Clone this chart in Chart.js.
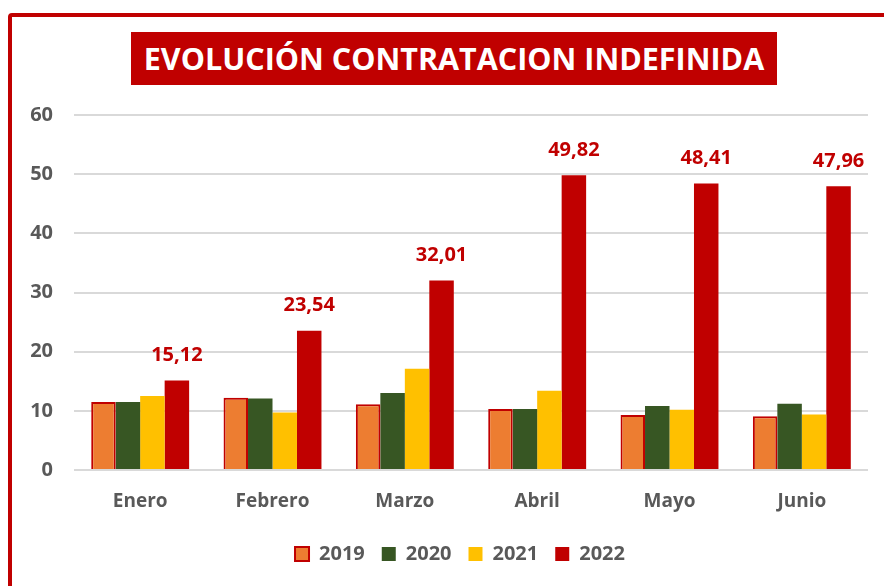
<!DOCTYPE html>
<html>
<head>
<meta charset="utf-8">
<script src="https://cdn.jsdelivr.net/npm/chart.js@4.4.0/dist/chart.umd.min.js"></script>
<style>
  html, body { margin: 0; padding: 0; background: #fff; }
  body { width: 884px; height: 586px; position: relative; overflow: hidden; font-family: "Open Sans", sans-serif; }
  #frame { position: absolute; left: 8px; top: 13px; width: 920px; height: 640px; border: 4px solid #c00000; border-radius: 4px; }
  #title { position: absolute; left: 131px; top: 32px; width: 646px; height: 53px; background: #c00000; color: #fff;
           font-weight: 700; font-size: 30.5px; line-height: 53px; text-align: center; white-space: nowrap; }
  #chart { position: absolute; left: 0; top: 0; }
</style>
</head>
<body>
<div id="frame"></div>
<div id="title">EVOLUCIÓN CONTRATACION INDEFINIDA</div>
<canvas id="chart" width="884" height="586"></canvas>
<script>
// data
const months = ['Enero', 'Febrero', 'Marzo', 'Abril', 'Mayo', 'Junio'];
const years = ['2019', '2020', '2021', '2022'];
const v2019 = [11.5, 12.2, 11.1, 10.3, 9.3, 9.1];
const v2020 = [11.5, 12.1, 13.0, 10.3, 10.8, 11.2];
const v2021 = [12.5, 9.7, 17.1, 13.4, 10.2, 9.4];
const v2022 = [15.12, 23.54, 32.01, 49.82, 48.41, 47.96];
const yTicks = [0, 10, 20, 30, 40, 50, 60];

const grey = '#595959';

// labels over the 2022 bars only
const topLabels = {
  id: 'topLabels',
  afterDatasetsDraw(chart) {
    const ctx = chart.ctx;
    const meta = chart.getDatasetMeta(3);
    ctx.save();
    ctx.font = 'bold 20px "Open Sans"';
    ctx.fillStyle = '#c00000';
    ctx.textAlign = 'center';
    ctx.textBaseline = 'middle';
    meta.data.forEach(function (bar, i) {
      ctx.fillText(v2022[i].toFixed(2).replace('.', ','), bar.x, bar.y - 25);
    });
    ctx.restore();
  }
};

// legend sits a bit right of the canvas centre
const shiftLegend = {
  id: 'shiftLegend',
  afterLayout(chart) {
    chart.legend.left += 21;
    chart.legend.right += 21;
  }
};

new Chart(document.getElementById('chart'), {
  type: 'bar',
  data: {
    labels: months,
    datasets: [
      { label: years[0], data: v2019, backgroundColor: '#ed7d31', borderColor: '#c00000', borderWidth: 2 },
      { label: years[1], data: v2020, backgroundColor: '#375623', borderWidth: 0 },
      { label: years[2], data: v2021, backgroundColor: '#ffc000', borderWidth: 0 },
      { label: years[3], data: v2022, backgroundColor: '#c00000', borderWidth: 0 }
    ]
  },
  options: {
    responsive: false,
    animation: false,
    categoryPercentage: 0.74,
    barPercentage: 1,
    layout: { padding: { top: 115, left: 10, right: 16, bottom: 12 } },
    plugins: {
      legend: {
        position: 'bottom',
        labels: {
          boxWidth: 14, boxHeight: 14, padding: 17,
          color: grey, font: { family: 'Open Sans', weight: 'bold', size: 20 }
        }
      },
      tooltip: { enabled: false },
      title: { display: false }
    },
    scales: {
      x: {
        grid: { display: false },
        border: { display: false },
        ticks: { color: grey, padding: 12, font: { family: 'Open Sans', weight: 'bold', size: 19 } },
        afterFit(s) { s.height = 57; }
      },
      y: {
        min: 0, max: 60,
        afterBuildTicks(s) { s.ticks = yTicks.map(v => ({ value: v })); },
        grid: { color: '#d9d9d9', lineWidth: 2, drawTicks: false },
        border: { display: false },
        ticks: { color: grey, padding: 21, font: { family: 'Open Sans', weight: 'bold', size: 20 } },
        afterFit(s) { s.width = 64; }
      }
    }
  },
  plugins: [topLabels, shiftLegend]
});
</script>
</body>
</html>
